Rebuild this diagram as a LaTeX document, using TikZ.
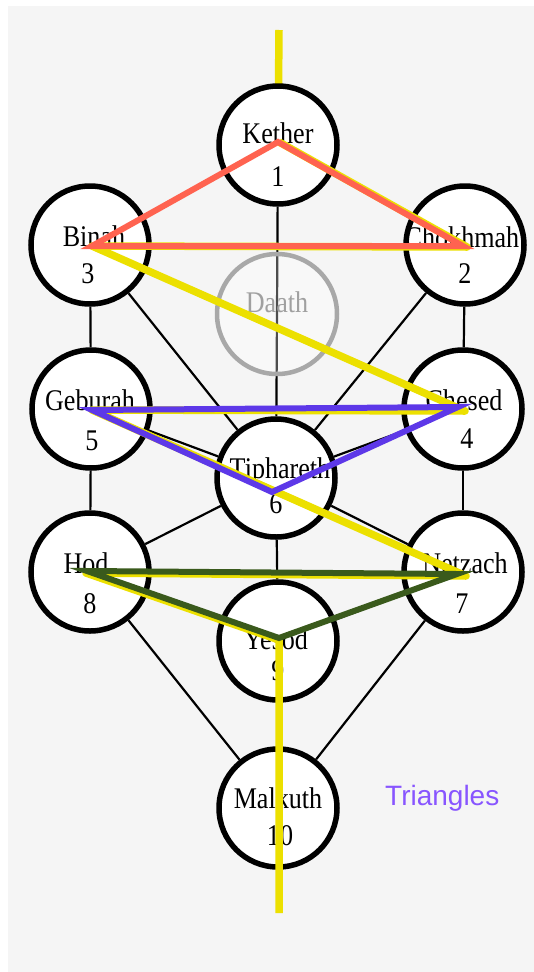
\documentclass[tikz,border=0pt]{standalone}
\usepackage{fontspec}
\setmainfont{Liberation Serif}
\newfontfamily\sefont[FakeStretch=0.87]{Liberation Serif}
\newfontfamily\sansf{Liberation Sans}
\definecolor{bgc}{RGB}{245,245,245}
\definecolor{flash}{RGB}{236,224,0}
\definecolor{tred}{RGB}{255,99,80}
\definecolor{tblue}{RGB}{93,56,232}
\definecolor{tgreen}{RGB}{58,90,28}
\definecolor{tri}{RGB}{136,85,255}
\definecolor{dgray}{RGB}{168,168,168}
\definecolor{dtext}{RGB}{160,160,160}
\begin{document}
\begin{tikzpicture}[x=1pt,y=-1pt,
  sephira/.style={circle, draw=black, line width=5.5pt, fill=white, minimum size=118pt, inner sep=0pt},
  daathc/.style={circle, draw=dgray, line width=4.5pt, fill=white, fill opacity=0.3, minimum size=120pt, inner sep=0pt},
  nm/.style={anchor=base, font=\sefont\fontsize{30}{30}\selectfont, inner sep=0pt},
  path/.style={draw=black, line width=2.2pt},
  flashline/.style={draw=flash, line width=7.5pt, line join=round},
  redtri/.style={draw=tred, line width=6pt, line join=miter},
  bluetri/.style={draw=tblue, line width=6pt, line join=miter},
  greentri/.style={draw=tgreen, line width=6pt, line join=miter}]
\useasboundingbox (0,0) rectangle (534,972);
\fill[white] (0,0) rectangle (534,972);
\fill[bgc] (8,6) rectangle (534,972);

% sephirot positions
\coordinate (pket) at (278,145);
\coordinate (pcho) at (465,245);
\coordinate (pbin) at (90,245);
\coordinate (pdaa) at (277,314);
\coordinate (pche) at (463,409);
\coordinate (pgeb) at (91,409);
\coordinate (ptip) at (276,478);
\coordinate (pnet) at (463,572);
\coordinate (phod) at (90,572);
\coordinate (pyes) at (278,641);
\coordinate (pmal) at (278,808);

% flash ends
\coordinate (ftop) at (279,30);
\coordinate (fbot) at (279,913);

% anchors for the paths
\node[sephira, draw=none, fill=none] (ket) at (pket) {};
\node[sephira, draw=none, fill=none] (cho) at (pcho) {};
\node[sephira, draw=none, fill=none] (bin) at (pbin) {};
\node[sephira, draw=none, fill=none] (che) at (pche) {};
\node[sephira, draw=none, fill=none] (geb) at (pgeb) {};
\node[sephira, draw=none, fill=none] (tip) at (ptip) {};
\node[sephira, draw=none, fill=none] (net) at (pnet) {};
\node[sephira, draw=none, fill=none] (hod) at (phod) {};
\node[sephira, draw=none, fill=none] (yes) at (pyes) {};
\node[sephira, draw=none, fill=none] (mal) at (pmal) {};

% top of the flash (under Kether)
\draw[flashline] (ftop) -- (ket.center);

% the 22 paths
\draw[path] (ket) -- (cho);
\draw[path] (ket) -- (bin);
\draw[path] (ket) -- (tip);
\draw[path] (cho) -- (bin);
\draw[path] (cho) -- (che);
\draw[path] (cho) -- (tip);
\draw[path] (bin) -- (geb);
\draw[path] (bin) -- (tip);
\draw[path] (che) -- (geb);
\draw[path] (che) -- (tip);
\draw[path] (che) -- (net);
\draw[path] (geb) -- (tip);
\draw[path] (geb) -- (hod);
\draw[path] (tip) -- (net);
\draw[path] (tip) -- (hod);
\draw[path] (tip) -- (yes);
\draw[path] (net) -- (hod);
\draw[path] (net) -- (yes);
\draw[path] (net) -- (mal);
\draw[path] (hod) -- (yes);
\draw[path] (hod) -- (mal);
\draw[path] (yes) -- (mal);

% circles
\foreach \n in {ket,cho,bin,che,geb,tip,net,hod,yes,mal}{
  \node[sephira] at (p\n) {};
}
\node[daathc] (daa) at (pdaa) {};

% texts
\node[nm] (ketT) at (278,143) {Kether};
\node[nm] (ketN) at (278,186) {1};
\node[nm] (choT) at (462,247) {Chokhmah};
\node[nm] (choN) at (465,283) {2};
\node[nm] (binT) at (94,246) {Binah};
\node[nm] (binN) at (88,283) {3};
\node[nm, text=dtext] (daaT) at (277,312) {Daath};
\node[nm] (cheT) at (464,410) {Chesed};
\node[nm] (cheN) at (467,448) {4};
\node[nm] (gebT) at (90,410) {Geburah};
\node[nm] (gebN) at (92,450) {5};
\node[nm] (tipT) at (280,478) {Tiphareth};
\node[nm] (tipN) at (276,513) {6};
\node[nm] (netT) at (465,573) {Netzach};
\node[nm] (netN) at (462,613) {7};
\node[nm] (hodT) at (86,573) {Hod};
\node[nm] (hodN) at (90,613) {8};
\node[nm] (yesT) at (276,649) {Yesod};
\node[nm] (yesN) at (278,680) {9};
\node[nm] (malT) at (278,808) {Malkuth};
\node[nm] (malN) at (280,845) {10};

% vertices of the flash
\coordinate (fk) at (279,142);
\coordinate (fc) at (467,247);
\coordinate (fb) at (92,246);
\coordinate (fch) at (465,411);
\coordinate (fg) at (92,410);
\coordinate (fn) at (466,576);
\coordinate (fh) at (86,573);
\coordinate (fy) at (279,640);
\draw[flashline] (fk) -- (fc) -- (fb) -- (fch) -- (fg) -- (fn) -- (fh) -- (fy) -- (fbot);

% supernal triangle
\coordinate (rk) at (278,142);
\coordinate (rc) at (463,246);
\coordinate (rb) at (92,246);
\draw[redtri] (rk) -- (rc) -- (rb) -- cycle;

% ethical triangle
\coordinate (bg) at (92,410);
\coordinate (bc) at (458,407);
\coordinate (bt) at (272,492);
\draw[bluetri] (bg) -- (bc) -- (bt) -- cycle;

% astral triangle
\coordinate (gh) at (87,571);
\coordinate (gn) at (457,574);
\coordinate (gy) at (279,638);
\draw[greentri] (gh) -- (gn) -- (gy) -- cycle;

\node[anchor=base west, inner sep=0pt, text=tri, font=\sansf\fontsize{28}{28}\selectfont] (lbl) at (385,805) {Triangles};
\end{tikzpicture}
\end{document}
